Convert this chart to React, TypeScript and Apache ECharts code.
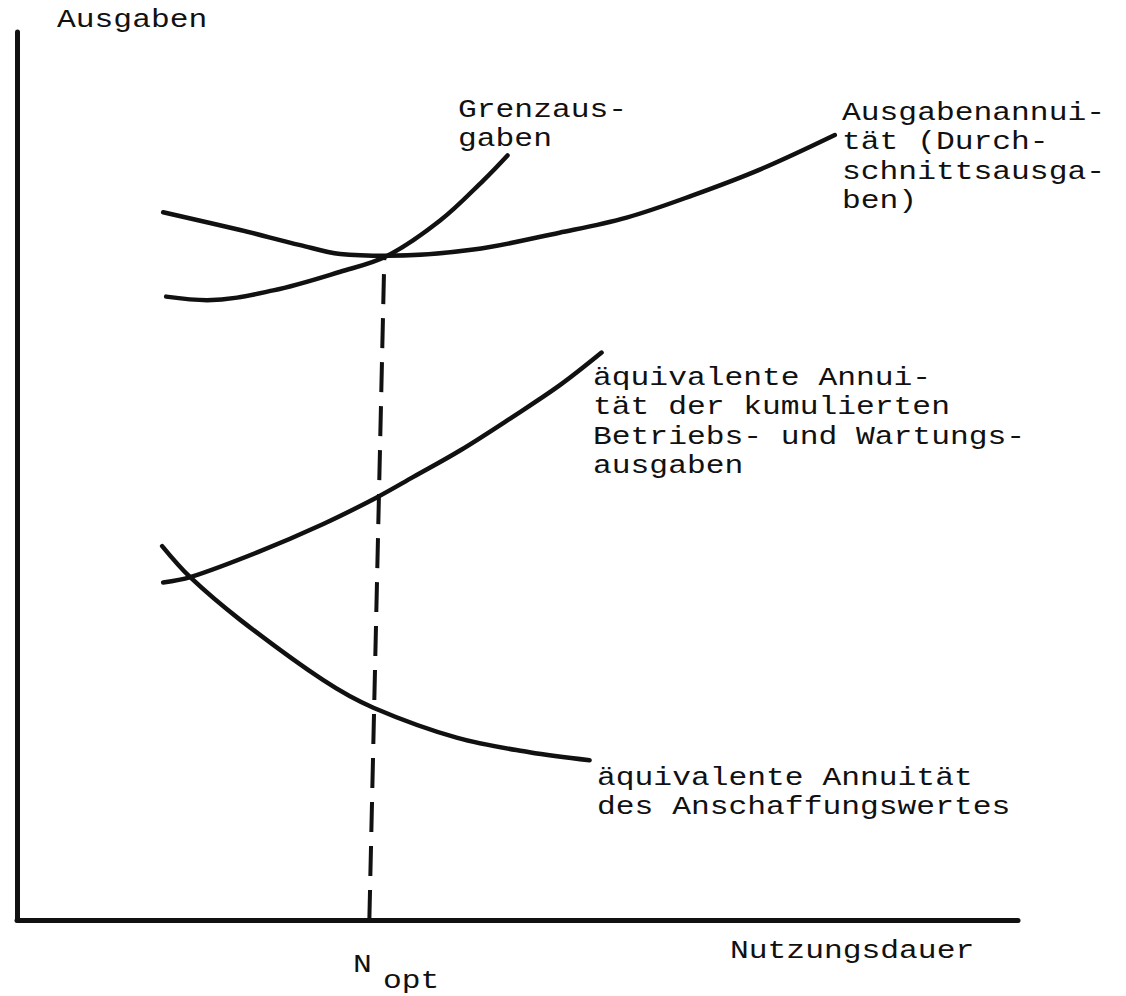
import React, { useEffect, useRef } from "react";
import * as echarts from "echarts";

// Nutzungsdauer (x) and Ausgaben (y) in relative units 0..100
const averageX = [14.6, 22.3, 28.3, 32.3, 37.0, 45.6, 54.2, 60.9, 67.5, 74.2, 81.7];
const averageY = [79.7, 77.7, 76.0, 75.0, 74.8, 75.5, 77.4, 79.1, 81.6, 84.5, 88.4];

const marginalX = [14.9, 19.0, 25.6, 32.3, 37.0, 42.3, 46.6, 49.0];
const marginalY = [70.2, 69.8, 70.9, 73.0, 74.8, 78.8, 83.3, 86.1];

const operatingX = [14.6, 17.3, 24.0, 30.6, 35.8, 39.6, 44.3, 49.3, 54.2, 58.4];
const operatingY = [38.0, 38.6, 41.4, 44.6, 47.5, 49.9, 52.9, 56.5, 60.2, 63.9];

const capitalX = [14.5, 17.3, 22.3, 30.6, 35.6, 44.0, 51.2, 57.2];
const capitalY = [42.1, 38.6, 33.8, 27.0, 23.9, 20.5, 18.9, 18.0];

const optimumX = [35.2, 36.7];
const optimumY = [0, 74.8];

const yTitle = "Ausgaben";
const xTitle = "Nutzungsdauer";
const optLabelMain = "N";
const optLabelSub = "opt";
const marginalLabel = ["Grenzaus-", "gaben"];
const averageLabel = ["Ausgabenannui-", "tät (Durch-", "schnittsausga-", "ben)"];
const operatingLabel = [
  "äquivalente Annui-",
  "tät der kumulierten",
  "Betriebs- und Wartungs-",
  "ausgaben",
];
const capitalLabel = ["äquivalente Annuität", "des Anschaffungswertes"];

const FONT_SIZE = 26;
const FONT = `${FONT_SIZE}px "Liberation Mono", "DejaVu Sans Mono", monospace`;
const SCALE_X = 18.8 / (FONT_SIZE * 0.6);
const INK = "#111";

const zip = (xs: number[], ys: number[]) => xs.map((x, i) => [x, ys[i]]);

function textEl(lines: string[], x: number, baseline: number, lh: number) {
  return {
    type: "text",
    x,
    y: baseline - 0.2665 * FONT_SIZE - lh / 2,
    scaleX: SCALE_X,
    scaleY: 1,
    style: {
      text: lines.join("\n"),
      font: FONT,
      fill: INK,
      lineHeight: lh,
      align: "left",
      verticalAlign: "top",
    },
  };
}

export default function App() {
  const ref = useRef<HTMLDivElement>(null);
  useEffect(() => {
    if (!ref.current) return;
    const chart = echarts.init(ref.current, undefined, { renderer: "svg" });
    const curve = (name: string, data: number[][]) => ({
      name,
      type: "line",
      data,
      smooth: 0.35,
      symbol: "none",
      lineStyle: { color: INK, width: 4.5, cap: "round" },
      z: 3,
    });
    chart.setOption({
      animation: false,
      backgroundColor: "#fff",
      grid: { left: 17, right: 108, top: 32, bottom: 76 },
      xAxis: {
        type: "value",
        min: 0,
        max: 100,
        axisLine: { show: true, onZero: false, lineStyle: { color: INK, width: 5 } },
        axisTick: { show: false },
        axisLabel: { show: false },
        splitLine: { show: false },
      },
      yAxis: {
        type: "value",
        min: 0,
        max: 100,
        axisLine: { show: true, onZero: false, lineStyle: { color: INK, width: 5 } },
        axisTick: { show: false },
        axisLabel: { show: false },
        splitLine: { show: false },
      },
      series: [
        curve("Ausgabenannuität", zip(averageX, averageY)),
        curve("Grenzausgaben", zip(marginalX, marginalY)),
        curve("Betriebs- und Wartungsausgaben", zip(operatingX, operatingY)),
        curve("Anschaffungswert", zip(capitalX, capitalY)),
        {
          name: "Nopt",
          type: "line",
          data: zip(optimumX, optimumY),
          symbol: "none",
          lineStyle: { color: INK, width: 4, type: [30, 14] },
          z: 2,
        },
      ],
      graphic: [
        textEl([yTitle], 57, 27, 29.5),
        textEl(marginalLabel, 458, 117, 29.5),
        textEl(averageLabel, 842, 120, 29.5),
        textEl(operatingLabel, 593, 385, 29.5),
        textEl(capitalLabel, 597, 785, 29.5),
        textEl([xTitle], 730, 958, 29.5),
        textEl([optLabelMain], 353, 972, 29.5),
        textEl([optLabelSub], 383, 988, 29.5),
      ],
    });
    return () => chart.dispose();
  }, []);
  return (
    <div
      ref={ref}
      style={{ position: "absolute", left: 0, top: 0, width: 1126, height: 996, background: "#fff" }}
    />
  );
}
